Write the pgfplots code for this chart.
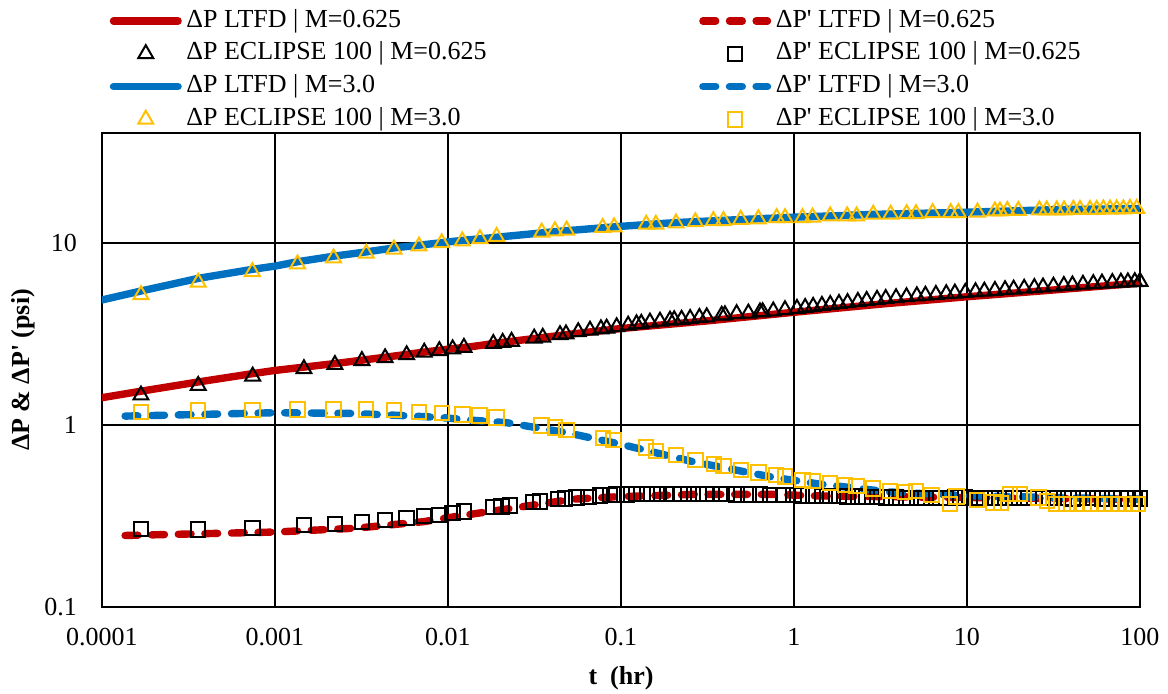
\documentclass[border=0pt]{standalone}
\usepackage{fontspec}
\setmainfont{Liberation Serif}[Ligatures=TeXOff]
\usepackage{pgfplots}
\pgfplotsset{compat=1.18}

\definecolor{ltred}{HTML}{C00000}
\definecolor{ltblue}{HTML}{0070C0}
\definecolor{ltgold}{HTML}{FFC000}

\newcommand{\chartfont}{\fontsize{13}{15}\selectfont}

\begin{document}
\begin{tikzpicture}
\begin{axis}[
  scale only axis,
  width=519pt, height=237pt,
  xmode=log, ymode=log,
  xmin=1e-4, xmax=100,
  ymin=0.1, ymax=40,
  xtick={1e-4,1e-3,1e-2,1e-1,1,10,100},
  xticklabels={0.0001,0.001,0.01,0.1,1,10,100},
  ytick={0.1,1,10},
  yticklabels={0.1,1,10},
  xminorticks=false, yminorticks=false,
  major tick length=0pt,
  grid=major,
  major grid style={black, line width=1pt},
  axis line style={black, line width=1.3pt},
  tick label style={font=\chartfont},
  xticklabel style={yshift=-7pt},
  yticklabel style={xshift=-9pt},
  xlabel={t~~(hr)},
  ylabel={ΔP \& ΔP' (psi)},
  xlabel style={font=\chartfont\bfseries, at={(axis description cs:0.5,-0.1498)}, anchor=center},
  ylabel style={font=\chartfont\bfseries, at={(axis description cs:-0.0761,0.5)}, anchor=center},
  legend columns=2,
  legend cell align=left,
  legend image code/.code={
    \draw[mark repeat=2, mark phase=2, #1] plot coordinates {(0pt,0pt) (16.15pt,0pt) (32.3pt,0pt)};
  },
  legend style={
    at={(0.0075,1.2711)}, anchor=north west,
    draw=none, fill=none, inner sep=0pt, outer sep=0pt,
    font=\chartfont, row sep=0pt,
    nodes={inner sep=2.3pt, text height=9pt, text depth=2.8pt},
    /tikz/column 2/.style={column sep=104pt},
  },
  lt/.style={no markers, line width=3.7pt, line cap=round, line join=round},
  ltd/.style={lt, dash pattern=on 6.4pt off 6.9pt},
  ectri/.style={only marks, mark=triangle, mark size=4.3pt, mark options={solid, line width=1pt}},
  ecsq/.style={only marks, mark=square, mark size=3.6pt, mark options={solid, line width=1pt}},
]

% dP LTFD, M=0.625
\addplot[lt, ltred] coordinates {
  (1e-4,1.41) (1.68e-4,1.53) (3.6e-4,1.72) (7.4e-4,1.91) (1e-3,1.99)
  (2.22e-3,2.17) (4.33e-3,2.35) (7.3e-3,2.51) (0.0106,2.62) (0.0134,2.68)
  (0.0191,2.81) (0.053,3.16) (0.1,3.38) (0.313,3.72) (1,4.15)
  (3.16,4.6) (10,5.05) (31.6,5.5) (100,6.0)};
\addlegendentry{ΔP LTFD | M=0.625}

% dP' LTFD, M=0.625
\addplot[ltd, ltred] coordinates {
  (1.36e-4,0.247) (1e-3,0.258) (2.96e-3,0.271) (7.2e-3,0.294) (0.0121,0.318)
  (0.0218,0.345) (0.053,0.391) (0.1,0.404) (0.26,0.415) (0.76,0.415)
  (1.41,0.407) (10,0.399) (100,0.39)};
\addlegendentry{ΔP' LTFD | M=0.625}

% dP ECLIPSE 100, M=0.625
\addplot[ectri, black] coordinates {
  (1.68e-4,1.455) (3.60e-4,1.643) (7.43e-4,1.849) (1.47e-3,2.03) (2.22e-3,2.14)
  (3.18e-3,2.25) (4.33e-3,2.33) (5.77e-3,2.42) (7.29e-3,2.50) (8.91e-3,2.55)
  (0.01064,2.61) (0.01236,2.66) (0.01828,2.79) (0.0207,2.83) (0.0233,2.87)
  (0.0315,2.99) (0.0353,3.02) (0.0444,3.12) (0.0481,3.15) (0.0566,3.24)
  (0.0662,3.30) (0.0766,3.36) (0.0826,3.39) (0.0944,3.45) (0.110,3.52)
  (0.123,3.58) (0.131,3.60) (0.147,3.66) (0.168,3.70) (0.192,3.75)
  (0.203,3.77) (0.224,3.79) (0.251,3.83) (0.284,3.88) (0.313,3.91)
  (0.382,3.99) (0.399,4.01) (0.466,4.07) (0.545,4.10) (0.636,4.16)
  (0.659,4.17) (0.759,4.21) (0.887,4.28) (1.04,4.35) (1.16,4.40)
  (1.29,4.46) (1.45,4.52) (1.62,4.57) (1.82,4.63) (2.04,4.68)
  (2.34,4.75) (2.63,4.81) (3.02,4.88) (3.39,4.93) (3.89,4.98)
  (4.47,5.04) (5.13,5.10) (5.75,5.14) (6.61,5.19) (7.59,5.24)
  (8.51,5.28) (9.77,5.32) (11.2,5.37) (12.6,5.41) (14.5,5.46)
  (16.6,5.51) (18.6,5.55) (21.4,5.61) (24.5,5.66) (27.5,5.70)
  (31.6,5.76) (36.3,5.81) (40.7,5.85) (46.8,5.90) (53.7,5.95)
  (60.3,5.99) (69.2,6.03) (77.6,6.06) (85.1,6.08) (93.3,6.10) (100,6.12)};
\addlegendentry{ΔP ECLIPSE 100 | M=0.625}

% dP' ECLIPSE 100, M=0.625
\addplot[ecsq, black] coordinates {
  (1.68e-4,0.268) (3.60e-4,0.266) (7.43e-4,0.272) (1.47e-3,0.282) (2.22e-3,0.286)
  (3.18e-3,0.294) (4.33e-3,0.301) (5.77e-3,0.308) (7.29e-3,0.315) (8.91e-3,0.321)
  (0.01064,0.328) (0.01236,0.334) (0.0183,0.353) (0.0204,0.357) (0.0228,0.360)
  (0.0311,0.376) (0.0340,0.379) (0.0434,0.392) (0.0475,0.395) (0.0554,0.400)
  (0.0648,0.403) (0.0756,0.409) (0.0864,0.412) (0.0944,0.414) (0.108,0.415)
  (0.123,0.417) (0.141,0.417) (0.161,0.418) (0.184,0.418) (0.201,0.418)
  (0.219,0.418) (0.245,0.418) (0.280,0.417) (0.313,0.417) (0.373,0.417)
  (0.408,0.417) (0.466,0.415) (0.545,0.415) (0.637,0.414) (0.727,0.412)
  (0.867,0.412) (0.991,0.411) (1.11,0.409) (1.29,0.409) (1.45,0.408)
  (1.62,0.407) (1.82,0.406) (2.04,0.405) (2.34,0.404) (2.63,0.403)
  (3.02,0.402) (3.39,0.400) (3.89,0.399) (4.47,0.398) (5.13,0.398)
  (5.75,0.397) (6.61,0.397) (7.59,0.398) (8.51,0.399) (9.77,0.400)
  (11.2,0.398) (12.6,0.397) (14.5,0.396) (16.6,0.396) (18.6,0.397)
  (21.4,0.398) (24.5,0.397) (27.5,0.396) (31.6,0.396) (36.3,0.396)
  (40.7,0.395) (46.8,0.396) (53.7,0.396) (60.3,0.395) (69.2,0.395)
  (77.6,0.395) (85.1,0.395) (93.3,0.395) (100,0.395)};
\addlegendentry{ΔP' ECLIPSE 100 | M=0.625}

% dP LTFD, M=3.0
\addplot[lt, ltblue] coordinates {
  (1e-4,4.85) (1.68e-4,5.43) (3.6e-4,6.37) (7.4e-4,7.14) (1e-3,7.44)
  (1.35e-3,7.86) (2.2e-3,8.44) (3.4e-3,8.91) (4.9e-3,9.37) (6.8e-3,9.69)
  (9.2e-3,10.0) (0.0121,10.3) (0.0153,10.5) (0.0415,11.5) (0.1,12.3)
  (0.208,12.9) (0.49,13.4) (1,13.8) (2.87,14.3) (10,14.7)
  (33,15.2) (100,15.4)};
\addlegendentry{ΔP LTFD | M=3.0}

% dP' LTFD, M=3.0
\addplot[ltd, ltblue] coordinates {
  (1.36e-4,1.117) (3.6e-4,1.14) (1e-3,1.166) (2.7e-3,1.156) (4.9e-3,1.13)
  (7.2e-3,1.11) (0.01,1.09) (0.0121,1.07) (0.0218,1.028) (0.0485,0.906)
  (0.1,0.782) (0.262,0.627) (0.76,0.515) (1.41,0.473) (3.59,0.428)
  (10,0.408) (33,0.399) (100,0.391)};
\addlegendentry{ΔP' LTFD | M=3.0}

% dP ECLIPSE 100, M=3.0
\addplot[ectri, ltgold] coordinates {
  (1.68e-4,5.17) (3.6e-4,6.06) (7.4e-4,6.93) (1.35e-3,7.63) (2.18e-3,8.23)
  (3.37e-3,8.73) (4.87e-3,9.21) (6.8e-3,9.57) (9.2e-3,9.97) (0.0121,10.2)
  (0.0153,10.5) (0.0191,10.8) (0.0348,11.4) (0.0415,11.6) (0.0485,11.7)
  (0.0784,12.1) (0.0912,12.2) (0.140,12.6) (0.159,12.6) (0.208,12.8)
  (0.269,13.0) (0.342,13.2) (0.391,13.2) (0.492,13.4) (0.622,13.5)
  (0.794,13.7) (0.887,13.7) (1.12,13.7) (1.28,13.8) (1.62,14.0)
  (2.03,14.0) (2.30,14.0) (2.87,14.3) (3.62,14.3) (4.48,14.4)
  (5.07,14.4) (6.33,14.6) (8.05,14.6) (8.91,14.6) (11.5,14.7)
  (14.5,14.9) (15.5,14.9) (17.1,15.0) (19.8,15.0) (26.2,15.1)
  (28.9,15.1) (33.0,15.1) (36.4,15.1) (41.2,15.2) (45.0,15.2)
  (51.4,15.2) (56.2,15.2) (61.4,15.3) (67.1,15.3) (73.3,15.3)
  (80.1,15.3) (87.5,15.4) (95.7,15.4)};
\addlegendentry{ΔP ECLIPSE 100 | M=3.0}

% dP' ECLIPSE 100, M=3.0
\addplot[ecsq, ltgold] coordinates {
  (1.68e-4,1.179) (3.6e-4,1.20) (7.4e-4,1.205) (1.35e-3,1.215) (2.18e-3,1.215)
  (3.37e-3,1.215) (4.87e-3,1.205) (6.8e-3,1.179) (9.2e-3,1.166) (0.0121,1.14)
  (0.0152,1.127) (0.0191,1.095) (0.0348,0.994) (0.0415,0.965) (0.0485,0.937)
  (0.0784,0.850) (0.0903,0.826) (0.140,0.750) (0.159,0.719) (0.208,0.681)
  (0.269,0.642) (0.345,0.608) (0.391,0.596) (0.494,0.566) (0.622,0.548)
  (0.787,0.529) (0.887,0.520) (1.12,0.499) (1.28,0.492) (1.62,0.479)
  (1.97,0.467) (2.30,0.463) (2.87,0.448) (3.59,0.435) (4.38,0.429)
  (5.07,0.435) (6.25,0.412) (7.98,0.368) (8.71,0.405) (11.4,0.388)
  (14.2,0.375) (15.7,0.373) (17.7,0.417) (20.3,0.417) (25.9,0.400)
  (28.9,0.383) (33.0,0.368) (37.7,0.368) (43.1,0.368) (47.1,0.368)
  (51.4,0.368) (57.4,0.368) (62.8,0.368) (68.6,0.368) (75.0,0.368)
  (81.9,0.368) (89.5,0.368) (97.7,0.368)};
\addlegendentry{ΔP' ECLIPSE 100 | M=3.0}

\end{axis}
\pgfresetboundingbox
\path[use as bounding box] (-51pt,-43pt) rectangle (533pt,303.5pt);
\end{tikzpicture}
\end{document}
